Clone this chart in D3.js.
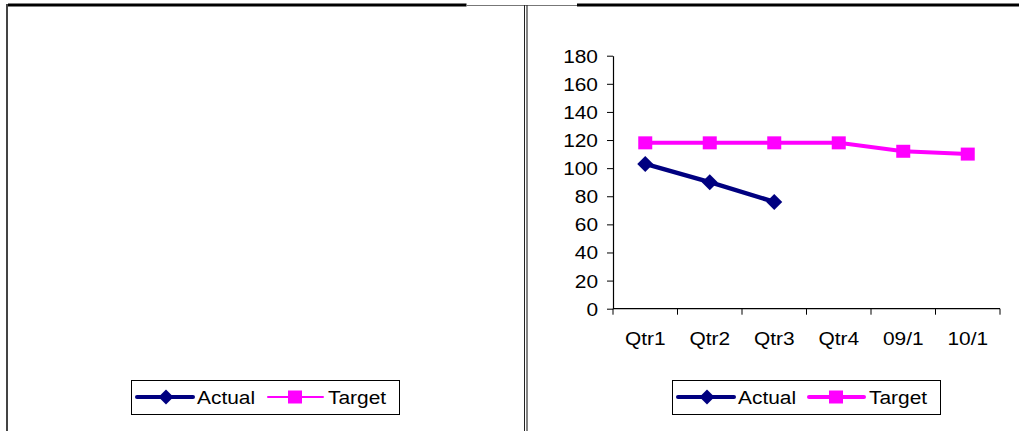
<!DOCTYPE html>
<html>
<head>
<meta charset="utf-8">
<script src="https://cdn.jsdelivr.net/npm/d3@7"></script>
<style>
  html, body { margin: 0; padding: 0; background: #fff; }
  svg { display: block; }
  text { font-family: "Liberation Sans", Arial, sans-serif; fill: #000; }
</style>
</head>
<body>
<svg id="chart" width="1019" height="431"></svg>
<script>
// ---- data ----
const categories = ["Qtr1", "Qtr2", "Qtr3", "Qtr4", "09/1", "10/1"];
const actualValues = [103, 90, 76, null, null, null];
const targetValues = [118, 118, 118, 118, 112, 110];
const yTicks = [0, 20, 40, 60, 80, 100, 120, 140, 160, 180];
const seriesNames = ["Actual", "Target"];
const seriesColors = ["#000080", "#FF00FF"];

const svg = d3.select("#chart");
const FS = 19, STRETCH = 1.1;

// ---- frame lines ----
const frame = svg.append("g");
frame.append("line").attr("x1", 8).attr("x2", 466.5).attr("y1", 5).attr("y2", 5)
  .attr("stroke", "#000").attr("stroke-width", 3);
frame.append("line").attr("x1", 577).attr("x2", 1019).attr("y1", 5).attr("y2", 5)
  .attr("stroke", "#000").attr("stroke-width", 3);
frame.append("line").attr("x1", 466).attr("x2", 577).attr("y1", 5.5).attr("y2", 5.5)
  .attr("stroke", "#777").attr("stroke-width", 1);
frame.append("line").attr("x1", 7).attr("x2", 7).attr("y1", 4).attr("y2", 431)
  .attr("stroke", "#444").attr("stroke-width", 2);
frame.append("line").attr("x1", 524.5).attr("x2", 524.5).attr("y1", 5).attr("y2", 431)
  .attr("stroke", "#222").attr("stroke-width", 1);
frame.append("line").attr("x1", 527).attr("x2", 527).attr("y1", 5).attr("y2", 431)
  .attr("stroke", "#333").attr("stroke-width", 1.2);

// ---- scales ----
const x = d3.scaleBand().domain(categories).range([613, 1000]);
const y = d3.scaleLinear().domain([0, 180]).range([308.7, 55.7]);

const plot = svg.append("g");

// y axis
const yAxis = plot.append("g").attr("transform", "translate(613,0)")
  .call(d3.axisLeft(y).tickValues(yTicks).tickSize(6).tickPadding(9).tickSizeOuter(0));
yAxis.select(".domain").attr("stroke", "#000").attr("stroke-width", 1.2);
yAxis.selectAll(".tick line").attr("stroke", "#000");
yAxis.selectAll(".tick text")
  .attr("font-size", FS)
  .attr("font-family", "Liberation Sans, Arial, sans-serif")
  .attr("dy", "0.34em")
  .attr("x", -15 / STRETCH)
  .attr("transform", `scale(${STRETCH},1)`);

// x axis (labels via axis, boundary ticks drawn from band scale)
const xAxis = plot.append("g").attr("transform", "translate(0,308.7)")
  .call(d3.axisBottom(x).tickSize(0).tickPadding(0));
xAxis.select(".domain").remove();
xAxis.selectAll(".tick text")
  .attr("font-size", FS)
  .attr("font-family", "Liberation Sans, Arial, sans-serif")
  .attr("y", 30)
  .attr("dy", "0.34em")
  .attr("transform", `scale(${STRETCH},1)`)
  .attr("x", function(d) { return 0; });
xAxis.selectAll(".tick text").each(function(d) {
  // keep centered after stretch: translate compensation
  d3.select(this).attr("transform", `scale(${STRETCH},1)`);
});
plot.append("line").attr("x1", x.range()[0]).attr("x2", x.range()[1])
  .attr("y1", y(0)).attr("y2", y(0)).attr("stroke", "#000").attr("stroke-width", 1.2);
const bounds = categories.map(c => x(c)).concat([x.range()[1]]);
plot.selectAll(".xb").data(bounds).join("line")
  .attr("x1", d => d).attr("x2", d => d)
  .attr("y1", y(0)).attr("y2", y(0) + 6)
  .attr("stroke", "#000");

const cx = c => x(c) + x.bandwidth() / 2;

// target line
const tData = categories.map((c, i) => ({ c, v: targetValues[i] })).filter(d => d.v != null);
const aData = categories.map((c, i) => ({ c, v: actualValues[i] })).filter(d => d.v != null);
const line = d3.line().x(d => cx(d.c)).y(d => y(d.v));

plot.append("path").attr("d", line(tData)).attr("fill", "none")
  .attr("stroke", seriesColors[1]).attr("stroke-width", 4);
plot.append("path").attr("d", line(aData)).attr("fill", "none")
  .attr("stroke", seriesColors[0]).attr("stroke-width", 4.5);

const sq = 14, sqh = 13;
plot.selectAll(".tm").data(tData).join("rect")
  .attr("x", d => cx(d.c) - sq / 2).attr("y", d => y(d.v) - sqh / 2)
  .attr("width", sq).attr("height", sqh).attr("fill", seriesColors[1]);
const diamond = r => `M0,${-r}L${r},0L0,${r}L${-r},0Z`;
plot.selectAll(".am").data(aData).join("path")
  .attr("d", diamond(8))
  .attr("transform", d => `translate(${cx(d.c)},${y(d.v)})`)
  .attr("fill", seriesColors[0]);

// ---- legends ----
function legend(x0, thinTarget) {
  const g = svg.append("g");
  g.append("rect").attr("x", x0 + 0.5).attr("y", 380.5).attr("width", 268).attr("height", 34)
    .attr("fill", "#fff").attr("stroke", "#000").attr("stroke-width", 1);
  const cy = 397;
  // Actual
  g.append("line").attr("x1", x0 + 6).attr("x2", x0 + 62).attr("y1", cy).attr("y2", cy)
    .attr("stroke", seriesColors[0]).attr("stroke-width", 4).attr("stroke-linecap", "round");
  g.append("path").attr("d", diamond(7.5)).attr("transform", `translate(${x0 + 35},${cy})`)
    .attr("fill", seriesColors[0]);
  g.append("text").attr("transform", `translate(${x0 + 66},${cy}) scale(${STRETCH},1)`)
    .attr("dy", "0.35em").attr("font-size", FS).text(seriesNames[0]);
  // Target
  g.append("line").attr("x1", x0 + 137).attr("x2", x0 + 192).attr("y1", cy).attr("y2", cy)
    .attr("stroke", seriesColors[1]).attr("stroke-width", thinTarget ? 2 : 4).attr("stroke-linecap", "round");
  g.append("rect").attr("x", x0 + 164 - 7).attr("y", cy - 6.5).attr("width", 14).attr("height", 13)
    .attr("fill", seriesColors[1]);
  g.append("text").attr("transform", `translate(${x0 + 197},${cy}) scale(${STRETCH},1)`)
    .attr("dy", "0.35em").attr("font-size", FS).text(seriesNames[1]);
}
legend(131, true);
legend(672, false);
</script>
</body>
</html>
